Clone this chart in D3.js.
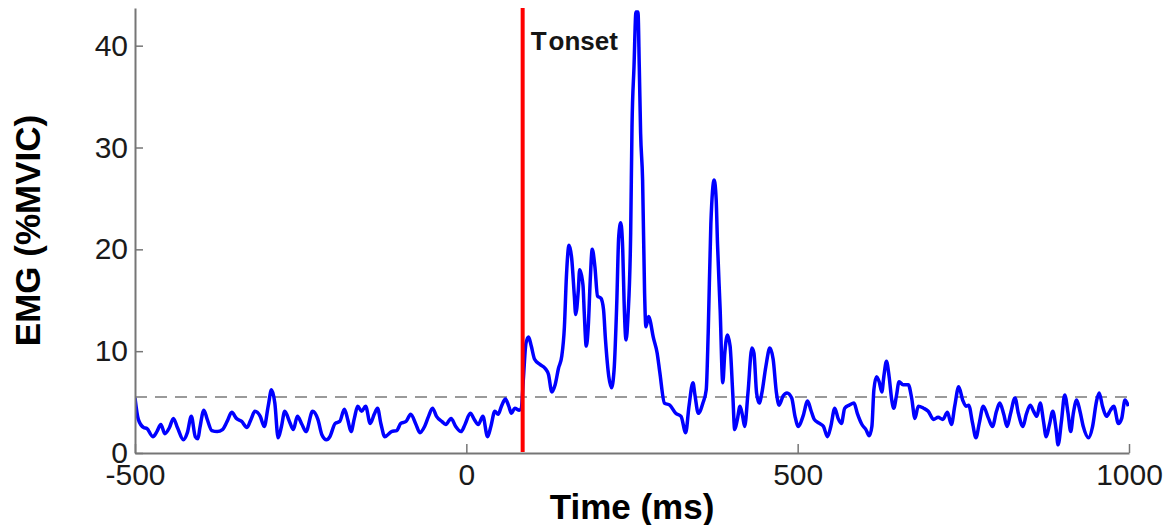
<!DOCTYPE html>
<html>
<head>
<meta charset="utf-8">
<script src="https://cdn.jsdelivr.net/npm/d3@7"></script>
<style>
  html, body { margin: 0; padding: 0; background: #fff; }
  svg { display: block; font-family: "Liberation Sans", Arial, sans-serif; }
</style>
</head>
<body>
<svg id="chart" width="1175" height="525"></svg>
<script>
// ---- data ----
const timeMs = [-500,-495,-487,-482,-473,-467,-461,-455,-448,-442,-436,-427,-421,-415,-409,-405,-402,-396,-391,-384,-376,-368,-361,-354,-347,-339,-331,-325,-319,-311,-305,-299,-294,-289,-284,-279,-274,-267,-261,-255,-248,-242,-232,-224,-218,-211,-206,-198,-191,-184,-179,-174,-169,-164,-158,-152,-145,-139,-134,-129,-123,-113,-105,-99,-91,-84,-76,-70,-63,-57,-51,-45,-37,-31,-23,-16,-8,-2,6,12,18,25,32,37,43,48,53,59,64,68,73,80,83,86,90,94,98,103,111,119,124,129,134,139,144,148,151,155,159,163,165,169,171,176,178,181,184,187,190,194,198,203,207,210,215,219,223,227,230,233,236,238,241,244,248,250,253,256,259,261,263,266,269,271,275,277,282,288,292,299,307,316,324,331,336,342,345,350,357,362,365,369,374,377,379,383,387,390,394,398,402,405,409,413,417,420,425,431,434,438,442,446,452,458,463,468,472,478,484,491,496,501,508,515,520,525,533,539,545,550,556,561,566,571,578,585,590,597,603,608,612,615,619,623,627,630,634,638,642,645,649,653,659,667,672,677,682,690,697,705,712,719,726,732,737,743,749,754,758,764,769,774,780,788,794,800,805,811,816,821,828,833,840,845,851,856,861,866,871,875,880,885,890,893,898,903,908,912,916,921,926,931,939,945,951,955,960,966,972,977,984,989,994,999];
const emgPct = [5.4,3.3,2.5,2.4,1.6,2.1,2.8,1.9,2.5,3.4,2.5,1.3,2.0,3.6,1.6,1.4,2.5,4.2,3.3,2.2,2.1,2.3,3.1,4.0,3.4,3.1,2.5,3.3,4.1,3.6,2.6,4.6,6.2,4.9,1.5,2.6,4.1,3.1,2.3,3.6,2.8,2.1,4.1,3.3,1.8,1.3,1.6,2.9,3.1,4.3,3.3,2.1,3.4,4.6,4.1,4.6,2.9,3.8,4.4,2.9,1.6,2.1,2.2,2.9,3.1,3.8,2.8,2.0,2.6,3.6,4.4,3.6,3.1,2.8,3.4,2.6,2.1,2.8,3.9,3.3,2.8,3.6,1.6,2.6,4.1,3.8,4.6,5.3,4.6,3.9,4.4,4.2,4.4,7.2,10.8,11.4,10.5,9.2,8.7,8.3,7.7,6.0,6.7,8.3,9.5,12.4,17.3,20.4,19.1,15.4,13.6,16.0,18.0,16.5,13.7,10.5,12.4,17.0,20.0,18.3,15.4,15.2,14.1,11.1,7.5,6.4,8.2,14.7,21.3,22.6,20.0,15.0,11.1,13.5,21.6,32.0,37.9,43.3,43.3,37.9,31.4,26.8,15.7,12.4,13.4,13.1,11.4,9.8,7.9,4.9,4.7,3.9,3.6,2.0,4.6,6.9,5.7,3.9,4.9,6.2,11.8,22.5,26.8,24.9,20.6,14.1,6.9,9.8,11.6,10.5,5.9,2.3,3.3,4.6,3.6,2.6,5.9,10.3,9.8,5.9,4.9,5.9,8.5,10.3,9.2,5.9,4.7,5.6,5.9,5.4,3.6,2.6,3.6,5.1,4.2,3.3,2.9,2.6,1.6,2.6,4.4,3.4,2.9,4.4,4.7,4.9,3.9,2.8,2.3,1.7,2.6,6.2,7.5,7.0,6.0,7.5,9.0,7.5,5.2,4.4,5.6,7.0,6.7,6.7,5.4,3.4,4.6,4.4,4.1,3.3,3.5,3.3,4.0,2.8,4.6,6.5,5.2,4.6,4.7,2.9,1.5,2.9,4.6,3.4,2.6,4.1,4.9,3.8,2.6,3.8,5.4,3.9,2.6,3.8,4.7,4.1,3.6,4.9,3.1,1.6,2.8,4.1,2.3,0.8,3.1,5.7,3.9,2.1,3.9,5.2,4.1,2.6,1.5,2.6,5.1,5.9,4.6,3.6,4.2,4.6,2.9,3.4,5.2,4.6];
const xTicks = [-500, 0, 500, 1000];
const yTicks = [0, 10, 20, 30, 40];
const xDomain = [-500, 1000];
const yDomain = [0, 43.7];
const threshold = [5.5];
const onsetMs = [85];
const onsetLabel = ["T", "onset"];
const xLabel = "Time (ms)";
const yLabel = "EMG (%MVIC)";

// ---- layout ----
const W = 1175, H = 525;
const margin = { left: 135, right: 46, top: 8, bottom: 72 };
const svg = d3.select("#chart");
const x = d3.scaleLinear().domain(xDomain).range([margin.left, W - margin.right]);
const y = d3.scaleLinear().domain(yDomain).range([H - margin.bottom, margin.top]);

svg.append("defs").append("clipPath").attr("id", "plotClip")
  .append("rect")
  .attr("x", x(xDomain[0])).attr("y", y(yDomain[1]))
  .attr("width", x(xDomain[1]) - x(xDomain[0]))
  .attr("height", y(yDomain[0]) - y(yDomain[1]));

// threshold dashed line
svg.append("g").selectAll("line").data(threshold).join("line")
  .attr("x1", x(xDomain[0])).attr("x2", x(xDomain[1]))
  .attr("y1", d => y(d)).attr("y2", d => y(d))
  .attr("stroke", "#7a7a7a").attr("stroke-width", 1.6)
  .attr("stroke-dasharray", "12,8");

// signal
const pts = timeMs.map((t, i) => [t, emgPct[i]]);
const line = d3.line().x(d => x(d[0])).y(d => y(d[1])).curve(d3.curveMonotoneX);
svg.append("path").datum(pts)
  .attr("clip-path", "url(#plotClip)")
  .attr("d", line)
  .attr("fill", "none").attr("stroke", "#0000ff")
  .attr("stroke-width", 3.5).attr("stroke-linejoin", "round");

// onset line
svg.append("g").selectAll("line").data(onsetMs).join("line")
  .attr("x1", d => x(d)).attr("x2", d => x(d))
  .attr("y1", y(yDomain[1])).attr("y2", y(yDomain[0]) - 1)
  .attr("stroke", "#ff0000").attr("stroke-width", 4);

const onsetText = svg.append("g").selectAll("text").data(onsetMs).join("text")
  .attr("x", d => x(d) + 8).attr("y", 50)
  .attr("font-size", 26).attr("font-weight", "bold").attr("fill", "#151515");
onsetText.append("tspan").text(onsetLabel[0]);
onsetText.append("tspan").attr("dx", 4).text(onsetLabel[1]);

// axes
const axisColor = "#767676";
const xAxis = d3.axisBottom(x).tickValues(xTicks).tickSizeInner(-9).tickSizeOuter(0).tickPadding(12).tickFormat(d => String(d));
const gx = svg.append("g").attr("transform", `translate(0,${y(0)})`).call(xAxis);
gx.select(".domain").attr("stroke", axisColor).attr("stroke-width", 2);
gx.selectAll(".tick line").attr("stroke", axisColor).attr("stroke-width", 1.5);
gx.selectAll(".tick text").attr("font-size", 30).attr("fill", "#1a1a1a")
  .attr("font-family", "Liberation Sans, Arial, sans-serif")
  .attr("dy", null).attr("y", 32);

const yAxis = d3.axisLeft(y).tickValues(yTicks).tickSizeInner(-8).tickSizeOuter(0).tickPadding(7).tickFormat(d => String(d));
const gy = svg.append("g").attr("transform", `translate(${x(xDomain[0])},0)`).call(yAxis);
gy.select(".domain").attr("stroke", axisColor).attr("stroke-width", 2);
gy.selectAll(".tick line").attr("stroke", axisColor).attr("stroke-width", 1.5);
gy.selectAll(".tick text").attr("font-size", 30).attr("fill", "#1a1a1a")
  .attr("font-family", "Liberation Sans, Arial, sans-serif")
  .attr("x", -7);

// axis labels
svg.append("text")
  .attr("x", (x(xDomain[0]) + x(xDomain[1])) / 2).attr("y", 519)
  .attr("text-anchor", "middle").attr("font-size", 35).attr("font-weight", "bold").attr("fill", "#000")
  .text(xLabel);

svg.append("text")
  .attr("transform", `translate(40,${(y(yDomain[0]) + y(yDomain[1])) / 2}) rotate(-90)`)
  .attr("text-anchor", "middle").attr("font-size", 35).attr("font-weight", "bold").attr("fill", "#000")
  .text(yLabel);
</script>
</body>
</html>
